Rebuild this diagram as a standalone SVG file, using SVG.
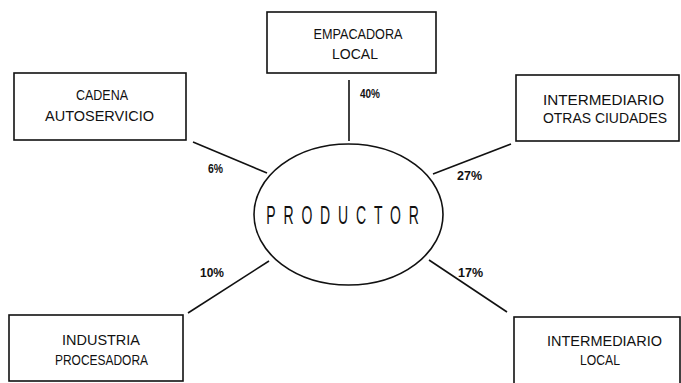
<svg xmlns="http://www.w3.org/2000/svg" width="681" height="383" viewBox="0 0 681 383">
<style>
.box{fill:#fff;stroke:#111;stroke-width:1.6}
.t{font-family:"Liberation Sans",Arial,sans-serif;font-size:15px;fill:#111;text-anchor:middle}
.p{font-family:"Liberation Sans",Arial,sans-serif;font-size:12px;font-weight:bold;fill:#111}
.c{stroke:#111;stroke-width:1.6;fill:none}
</style>
<rect width="681" height="383" fill="#fff"/>
<g id="connectors">
<line class="c" x1="349" y1="80" x2="349" y2="141"/>
<line class="c" x1="193" y1="142" x2="267" y2="173"/>
<line class="c" x1="511" y1="144" x2="433" y2="174"/>
<line class="c" x1="269" y1="261" x2="188" y2="313"/>
<line class="c" x1="429" y1="260" x2="507" y2="312"/>
<text class="p" x="360" y="98" textLength="20" lengthAdjust="spacingAndGlyphs">40%</text>
<text class="p" x="208" y="173" textLength="15" lengthAdjust="spacingAndGlyphs">6%</text>
<text class="p" x="457" y="180" textLength="25" lengthAdjust="spacingAndGlyphs">27%</text>
<text class="p" x="200" y="277" textLength="24" lengthAdjust="spacingAndGlyphs">10%</text>
<text class="p" x="458" y="277" textLength="25" lengthAdjust="spacingAndGlyphs">17%</text>
</g>
<g id="productor">
<ellipse cx="348.5" cy="214.5" rx="94.5" ry="70.5" class="box"/>
<text class="t" transform="translate(346.5,224) scale(0.56,1)" x="0" y="0" style="font-size:25px;letter-spacing:14px">PRODUCTOR</text>
</g>
<g id="empacadora">
<rect class="box" x="267" y="12" width="169" height="61"/>
<text class="t" x="358" y="38.5" textLength="89" lengthAdjust="spacingAndGlyphs">EMPACADORA</text>
<text class="t" x="355" y="58.5" textLength="46" lengthAdjust="spacingAndGlyphs">LOCAL</text>
</g>
<g id="cadena">
<rect class="box" x="14" y="73" width="172" height="67"/>
<text class="t" x="102" y="99.5" textLength="52" lengthAdjust="spacingAndGlyphs">CADENA</text>
<text class="t" x="99.5" y="120.5" textLength="109" lengthAdjust="spacingAndGlyphs">AUTOSERVICIO</text>
</g>
<g id="intermediario-otras">
<rect class="box" x="516" y="75" width="163" height="66"/>
<text class="t" x="603.5" y="104.5" textLength="121" lengthAdjust="spacingAndGlyphs">INTERMEDIARIO</text>
<text class="t" x="605" y="122.5" textLength="124" lengthAdjust="spacingAndGlyphs">OTRAS CIUDADES</text>
</g>
<g id="industria">
<rect class="box" x="9" y="315" width="174" height="66"/>
<text class="t" x="101" y="344.5" textLength="78" lengthAdjust="spacingAndGlyphs">INDUSTRIA</text>
<text class="t" x="101.5" y="364.5" textLength="93" lengthAdjust="spacingAndGlyphs">PROCESADORA</text>
</g>
<g id="intermediario-local">
<rect class="box" x="514" y="317" width="166" height="72"/>
<text class="t" x="604.5" y="345.5" textLength="115" lengthAdjust="spacingAndGlyphs">INTERMEDIARIO</text>
<text class="t" x="600" y="364.5" textLength="40" lengthAdjust="spacingAndGlyphs">LOCAL</text>
</g>
</svg>
